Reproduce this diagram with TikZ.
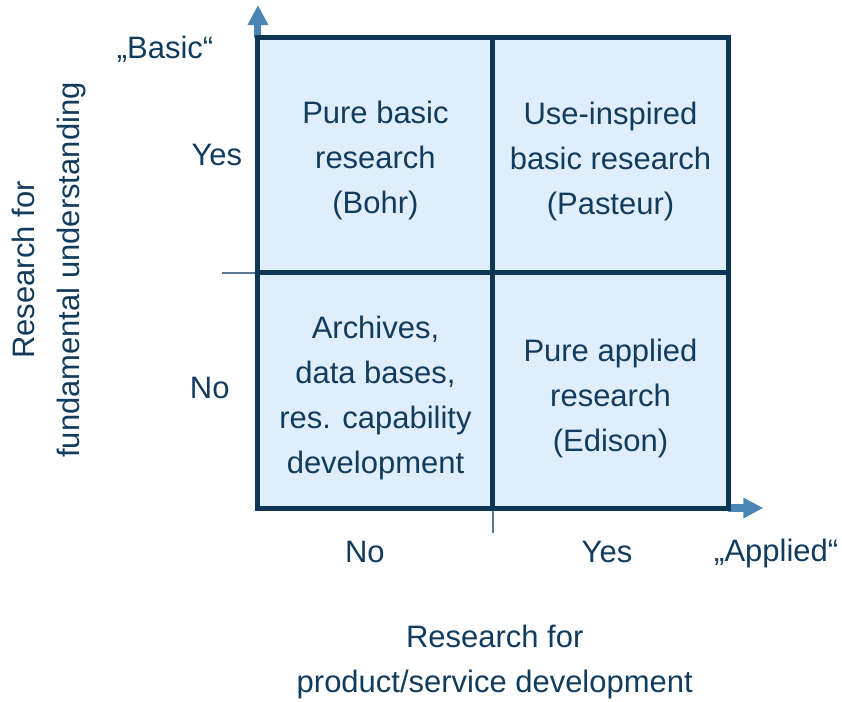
\documentclass[tikz,border=0pt]{standalone}
\usepackage{fontspec}
\setmainfont{Liberation Sans}
\usetikzlibrary{arrows.meta}
\definecolor{navyText}{HTML}{123C5E}
\definecolor{gridNavy}{HTML}{0D3754}
\definecolor{cellBlue}{HTML}{DFEEFA}
\definecolor{arrowBlue}{HTML}{4A86B4}
\definecolor{tickGrey}{HTML}{5B7893}
\newcommand{\cellText}[3]{%%
  \node[labelStyle] (#1) at (#2) {#3};
}

\begin{document}
\begin{tikzpicture}[%%
  axisStyle/.style={-{Triangle[width=0.33cm,length=0.34cm]},line width=0.12cm,arrowBlue},%%
  gridStyle/.style={line width=0.085cm,gridNavy},%%
  tickStyle/.style={line width=0.7pt,tickGrey},%%
  labelStyle/.style={text=navyText,font=\fontsize{15}{21.8}\selectfont,align=center,inner sep=0pt}
]
%%
%%
\useasboundingbox (-4.39,-3.285) rectangle (9.94,8.646);
\pgfmathsetmacro{\side}{8}
\pgfmathsetmacro{\half}{4}
\coordinate (origin) at (0,0);
\coordinate (topLeft) at (0,\side);
\coordinate (bottomRight) at (\side,0);
\coordinate (topRight) at (\side,\side);
\coordinate (yend) at (0,8.56);
\coordinate (xend) at (8.6,0);
%%
%% The two axes and the tick marks.
\draw[axisStyle] (topLeft) -- (yend);
\draw[axisStyle] (bottomRight) -- (xend);
\draw[tickStyle] (-0.61,\half) -- (0,\half);
\draw[tickStyle] (\half,0) -- (\half,-0.43);
%%
%% The four quadrants.
\fill[cellBlue] (origin) rectangle (topRight);
\draw[gridStyle] (\half,0) -- (\half,\side);
\draw[gridStyle] (0,\half) -- (\side,\half);
\draw[gridStyle] (origin) rectangle (topRight);
\cellText{pureBasic}{2,5.91}{Pure basic\\research\\(Bohr)}
\cellText{useInspired}{6,5.89}{Use-inspired\\basic research\\(Pasteur)}
\cellText{archives}{2,1.88}{Archives,\\data bases,\\res. capability\\development}
\cellText{pureApplied}{6,1.87}{Pure applied\\research\\(Edison)}
%%
%% Axis labels.
\node[labelStyle] (yesY) at (-0.70,6.01) {Yes};
\node[labelStyle] (noY) at (-0.82,2.04) {No};
\node[labelStyle] (noX) at (1.82,-0.75) {No};
\node[labelStyle] (yesX) at (5.94,-0.75) {Yes};
\node[labelStyle] (applied) at (8.82,-0.77) {„Applied“};
\node[labelStyle] (basic) at (-1.58,7.81) {„Basic“};
\node[labelStyle] (xTitle) at (4.03,-2.62) {Research for\\product/service development};
\node[labelStyle,rotate=90] (yTitle) at (-3.55,4.05) {Research for\\fundamental understanding};
\end{tikzpicture}
\end{document}
